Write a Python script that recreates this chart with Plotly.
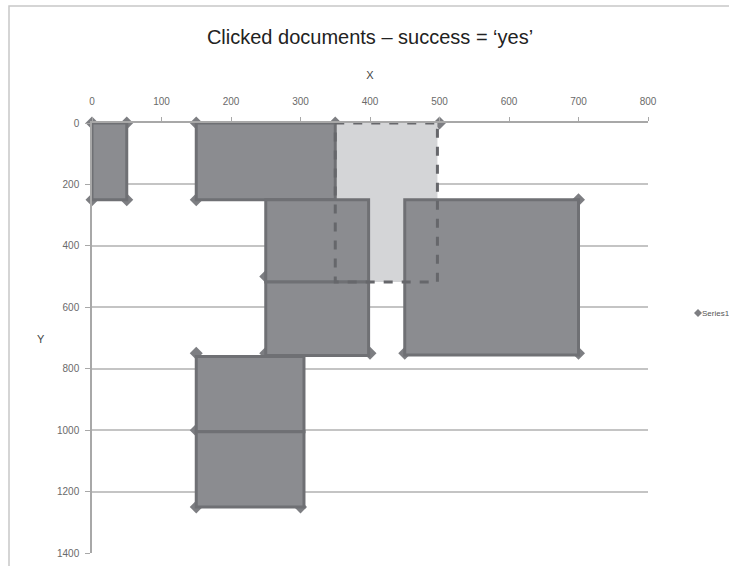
import plotly.graph_objects as go

# Click positions (Series1)
point_x = [0, 50, 0, 50, 150, 350, 500, 150, 400, 450, 700, 250, 400,
           250, 400, 450, 700, 150, 150, 150, 300]
point_y = [0, 0, 250, 250, 0, 0, 0, 250, 250, 250, 250, 500, 500,
           750, 750, 750, 750, 750, 1000, 1250, 1250]

# Clicked document regions (dark boxes)
box_x0 = [0, 150, 250, 250, 450, 150, 150]
box_x1 = [50, 350, 398, 398, 700, 305, 305]
box_y0 = [0, 0, 250, 518, 250, 760, 1005]
box_y1 = [250, 250, 518, 757, 755, 1005, 1250]

# Highlighted region (light box, dashed outline)
hi_x0, hi_x1 = 350, 497
hi_y0, hi_y1 = 0, 518

x_ticks = [0, 100, 200, 300, 400, 500, 600, 700, 800]
y_ticks = [0, 200, 400, 600, 800, 1000, 1200, 1400]
series_name = "Series1"

FONT = "Liberation Sans Narrow, Arial Narrow, Liberation Sans, sans-serif"
DARK_FILL = "#8b8c90"
DARK_LINE = "#6f7074"
LIGHT_FILL = "#d4d5d7"
MARKER = "#7d7e82"
GRID = "#c4c4c4"
TICK_FONT = dict(family=FONT, size=10, color="#6a6a6a")

W, H = 729, 566
ML, MR, MT, MB = 92, 81, 123, 13
PW, PH = W - ML - MR, H - MT - MB


def px_x(p):
    """pixel column -> paper x"""
    return (p - ML) / PW


def px_y(p):
    """pixel row -> paper y"""
    return 1 - (p - MT) / PH


fig = go.Figure()
fig.add_trace(go.Scatter(
    x=point_x, y=point_y, mode="markers", name=series_name,
    marker=dict(symbol="diamond", size=10, color=MARKER),
    cliponaxis=False, showlegend=False,
))

shapes = []
# light highlighted area sits under the dark boxes
shapes.append(dict(type="rect", xref="x", yref="y", layer="above",
                   x0=hi_x0, x1=hi_x1, y0=hi_y0, y1=hi_y1,
                   fillcolor=LIGHT_FILL, line=dict(width=0)))
for x0, x1, y0, y1 in zip(box_x0, box_x1, box_y0, box_y1):
    shapes.append(dict(type="rect", xref="x", yref="y", layer="above",
                       x0=x0, x1=x1, y0=y0, y1=y1,
                       fillcolor=DARK_FILL,
                       line=dict(color=DARK_LINE, width=3)))
# dashed outline drawn on top of everything
shapes.append(dict(type="rect", xref="x", yref="y", layer="above",
                   x0=hi_x0, x1=hi_x1, y0=hi_y0, y1=hi_y1,
                   fillcolor="rgba(0,0,0,0)",
                   line=dict(color="#66676b", width=3, dash="dash")))
# chart frame
shapes.append(dict(type="rect", xref="paper", yref="paper", layer="below",
                   x0=px_x(9), x1=px_x(760), y0=px_y(600), y1=px_y(6),
                   fillcolor="rgba(0,0,0,0)",
                   line=dict(color="#c8c8c8", width=1.5)))
# legend key: small diamond
cx, cy, r = 698, 313, 4
shapes.append(dict(type="path", xref="paper", yref="paper", layer="above",
                   path=(f"M {px_x(cx - r)} {px_y(cy)} L {px_x(cx)} {px_y(cy - r)} "
                         f"L {px_x(cx + r)} {px_y(cy)} L {px_x(cx)} {px_y(cy + r)} Z"),
                   fillcolor=MARKER, line=dict(width=0)))

fig.update_layout(
    width=W, height=H,
    margin=dict(l=ML, r=MR, t=MT, b=MB, autoexpand=False),
    paper_bgcolor="white", plot_bgcolor="white",
    shapes=shapes,
    title=dict(text="Clicked documents – success = ‘yes’",
               x=0.5, xref="paper", xanchor="center",
               y=1 - 37 / H, yref="container", yanchor="middle",
               font=dict(family=FONT, size=20, color="#222222")),
    showlegend=False,
    annotations=[
        dict(text="Y", xref="paper", yref="paper",
             x=px_x(35), y=px_y(339),
             showarrow=False, textangle=0,
             font=dict(family=FONT, size=11, color="#444444")),
        dict(text=series_name, xref="paper", yref="paper",
             x=px_x(701), y=px_y(313), xanchor="left", yanchor="middle",
             showarrow=False, borderpad=0,
             font=dict(family=FONT, size=8, color="#555555")),
    ],
    xaxis=dict(side="top", range=[0, 800], tickvals=x_ticks,
               ticks="outside", ticklen=4, tickcolor="#a8a8a8",
               ticklabelstandoff=8,
               showgrid=False, zeroline=False,
               showline=True, linecolor="#a8a8a8", linewidth=1.5,
               tickfont=TICK_FONT,
               title=dict(text="X", standoff=14,
                          font=dict(family=FONT, size=11, color="#444444"))),
    yaxis=dict(range=[1400, 0], tickvals=y_ticks,
               ticks="outside", ticklen=5, tickcolor="#a8a8a8",
               ticklabelstandoff=4,
               showgrid=True, gridcolor=GRID, gridwidth=1.5,
               zeroline=False,
               showline=True, linecolor="#a8a8a8", linewidth=1.5,
               tickfont=TICK_FONT),
)

fig.write_html("out.html")
